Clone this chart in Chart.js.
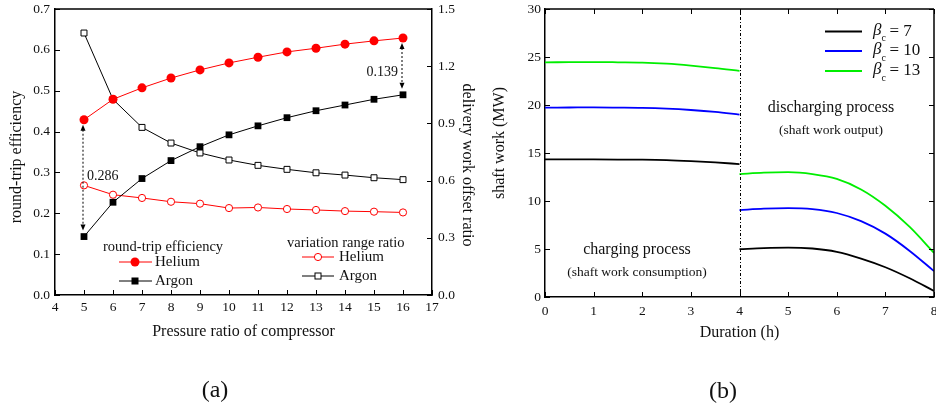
<!DOCTYPE html>
<html><head><meta charset="utf-8">
<script src="https://cdn.jsdelivr.net/npm/chart.js@4/dist/chart.umd.min.js"></script>
<style>
html,body{margin:0;padding:0;background:#fff;}
#wrap{position:relative;width:936px;height:408px;overflow:hidden;background:#fff;}
#ca{position:absolute;left:0;top:0;width:480px;height:408px;}
#cb{position:absolute;left:480px;top:0;width:456px;height:408px;}
</style></head><body>
<div id="wrap"><canvas id="ca" width="480" height="408"></canvas><canvas id="cb" width="456" height="408"></canvas></div>
<script>
// ---------- Panel (a) data ----------
const pressureRatios = [5,6,7,8,9,10,11,12,13,14,15,16];
const rteHelium = [0.429,0.479,0.507,0.531,0.551,0.568,0.582,0.595,0.604,0.614,0.622,0.629];
const rteArgon  = [0.143,0.227,0.285,0.329,0.363,0.392,0.414,0.434,0.451,0.465,0.479,0.490];
const vrrHelium = [0.575,0.526,0.509,0.489,0.479,0.456,0.459,0.451,0.446,0.440,0.437,0.433];
const vrrArgon  = [1.374,1.026,0.879,0.797,0.745,0.708,0.680,0.659,0.641,0.629,0.615,0.605];

// ---------- Panel (b) data ----------
const chargeHours    = [0,0.5,1,1.5,2,2.5,3,3.5,4];
const dischargeHours = [4,4.5,5,5.5,6,6.5,7,7.5,8];
const chargeBeta7     = [14.33,14.33,14.33,14.32,14.30,14.25,14.15,14.02,13.85];
const chargeBeta10    = [19.73,19.74,19.75,19.73,19.70,19.62,19.48,19.28,19.00];
const chargeBeta13    = [24.45,24.46,24.47,24.45,24.42,24.30,24.10,23.85,23.55];
const dischargeBeta7  = [4.98,5.10,5.15,5.05,4.70,4.00,3.10,1.95,0.63];
const dischargeBeta10 = [9.05,9.20,9.25,9.15,8.75,7.90,6.60,4.80,2.70];
const dischargeBeta13 = [12.80,12.95,13.00,12.80,12.30,11.20,9.50,7.30,4.60];
const betaValues = [7,10,13];
const betaColors = ['#000000','#0000ff','#00ee00'];

const FONT = '"Liberation Serif","Times New Roman",serif';
Chart.defaults.font.family = FONT;
Chart.defaults.color = '#111';

function seg(ctx,x0,y0,x1,y1){ctx.beginPath();ctx.moveTo(x0,y0);ctx.lineTo(x1,y1);ctx.stroke();}
function txt(ctx,s,x,y,size,align,opt){ctx.font=(opt&&opt.italic?'italic ':'')+size+'px '+FONT;ctx.textAlign=align||'center';ctx.textBaseline='middle';ctx.fillStyle='#111';ctx.fillText(s,x,y);}
function vtxt(ctx,s,x,y,size,rot){ctx.save();ctx.translate(x,y);ctx.rotate(rot);txt(ctx,s,0,0,size,'center');ctx.restore();}
function pin(w,h){return function(s){ if(w!==undefined) s.width=w; if(h!==undefined) s.height=h; s.paddingLeft=0; s.paddingRight=0; s.paddingTop=0; s.paddingBottom=0;};}

function dArrow(ctx,x,yt,yb){
  ctx.save();ctx.strokeStyle='#000';ctx.fillStyle='#000';ctx.lineWidth=1;
  ctx.setLineDash([2,2]);seg(ctx,x,yt+5,x,yb-5);ctx.setLineDash([]);
  ctx.beginPath();ctx.moveTo(x,yt);ctx.lineTo(x-2.5,yt+6);ctx.lineTo(x+2.5,yt+6);ctx.closePath();ctx.fill();
  ctx.beginPath();ctx.moveTo(x,yb);ctx.lineTo(x-2.5,yb-6);ctx.lineTo(x+2.5,yb-6);ctx.closePath();ctx.fill();
  ctx.restore();
}

const decorA = {
  id:'decorA',
  afterDraw(chart){
    const {ctx, chartArea:ca, scales} = chart;
    const x=scales.x, y=scales.y, y1=scales.y1;
    ctx.save();
    ctx.strokeStyle='#000';ctx.lineWidth=1;
    x.ticks.forEach(t=>{const p=Math.round(x.getPixelForValue(t.value))+0.5;seg(ctx,p,ca.bottom,p,ca.bottom-5);});
    y.ticks.forEach(t=>{const p=Math.round(y.getPixelForValue(t.value))+0.5;seg(ctx,ca.left,p,ca.left+5,p);});
    y1.ticks.forEach(t=>{const p=Math.round(y1.getPixelForValue(t.value))+0.5;seg(ctx,ca.right-5,p,ca.right,p);});
    ctx.lineWidth=1.5;seg(ctx,ca.left,ca.top,ca.right,ca.top);
    // difference arrows
    const i0=0, i1=pressureRatios.length-1;
    const xa=x.getPixelForValue(pressureRatios[i0]);
    const ya1=y.getPixelForValue(rteHelium[i0]), ya2=y.getPixelForValue(rteArgon[i0]);
    dArrow(ctx,xa-1,ya1+5,ya2-6);
    txt(ctx,(rteHelium[i0]-rteArgon[i0]).toFixed(3),xa+3,(ya1+ya2)/2-2,14,'left');
    const xb=x.getPixelForValue(pressureRatios[i1]);
    const yb1=y.getPixelForValue(rteHelium[i1]), yb2=y.getPixelForValue(rteArgon[i1]);
    dArrow(ctx,xb-1,yb1+5,yb2-6);
    txt(ctx,(rteHelium[i1]-rteArgon[i1]).toFixed(3),xb-5,(yb1+yb2)/2+6,14,'right');
    // legends
    txt(ctx,'round-trip efficiency',103,247,14.5,'left');
    ctx.lineWidth=1;
    ctx.strokeStyle='#ff0000';seg(ctx,119,262,152,262);
    ctx.fillStyle='#ff0000';ctx.beginPath();ctx.arc(135,262,4.5,0,Math.PI*2);ctx.fill();
    txt(ctx,'Helium',155,262,15,'left');
    ctx.strokeStyle='#000';seg(ctx,119,281,152,281);
    ctx.fillStyle='#000';ctx.fillRect(131.5,277.5,7,7);
    txt(ctx,'Argon',155,281,15,'left');
    txt(ctx,'variation range ratio',287,243,14.5,'left');
    ctx.strokeStyle='#ff0000';seg(ctx,302,257,334,257);
    ctx.fillStyle='#fff';ctx.beginPath();ctx.arc(318,257,3.6,0,Math.PI*2);ctx.fill();ctx.stroke();
    txt(ctx,'Helium',339,257,15,'left');
    ctx.strokeStyle='#000';seg(ctx,302,276,334,276);
    ctx.fillStyle='#fff';ctx.fillRect(315,273,6,6);ctx.strokeRect(315,273,6,6);
    txt(ctx,'Argon',339,276,15,'left');
    // axis titles
    vtxt(ctx,'round-trip efficiency',17,157,16,-Math.PI/2);
    vtxt(ctx,'delivery work offset ratio',467,165,16,Math.PI/2);
    txt(ctx,'Pressure ratio of compressor',(ca.left+ca.right)/2,332,16,'center');
    txt(ctx,'(a)',215,391,24,'center');
    ctx.restore();
  }
};

new Chart(document.getElementById('ca'),{
  type:'line',
  data:{
    labels:pressureRatios,
    datasets:[
      {label:'RTE Helium',data:pressureRatios.map((p,i)=>({x:p,y:rteHelium[i]})),yAxisID:'y',borderColor:'#ff0000',backgroundColor:'#ff0000',borderWidth:1,pointStyle:'circle',pointRadius:4.5,pointBorderWidth:0},
      {label:'RTE Argon',data:pressureRatios.map((p,i)=>({x:p,y:rteArgon[i]})),yAxisID:'y',borderColor:'#000',backgroundColor:'#000',borderWidth:1,pointStyle:'rect',pointRadius:4.8,pointBorderWidth:0},
      {label:'VRR Helium',data:pressureRatios.map((p,i)=>({x:p,y:vrrHelium[i]})),yAxisID:'y1',borderColor:'#ff0000',backgroundColor:'#fff',pointBorderColor:'#ff0000',pointBackgroundColor:'#fff',borderWidth:1,pointStyle:'circle',pointRadius:3.6,pointBorderWidth:1},
      {label:'VRR Argon',data:pressureRatios.map((p,i)=>({x:p,y:vrrArgon[i]})),yAxisID:'y1',borderColor:'#000',backgroundColor:'#fff',pointBorderColor:'#000',pointBackgroundColor:'#fff',borderWidth:1,pointStyle:'rect',pointRadius:4.2,pointBorderWidth:1}
    ]
  },
  options:{
    responsive:false,animation:false,
    layout:{padding:{top:9,left:0,right:0,bottom:0}},
    plugins:{legend:{display:false},tooltip:{enabled:false}},
    elements:{line:{tension:0}},
    scales:{
      x:{type:'linear',min:4,max:17,ticks:{stepSize:1,padding:4,font:{size:13.5},color:'#111'},grid:{display:false,drawTicks:false},border:{display:true,color:'#000',width:1.5},afterFit:pin(undefined,113)},
      y:{position:'left',min:0,max:0.7,ticks:{stepSize:0.1,padding:5,font:{size:13.5},color:'#111',callback:v=>v.toFixed(1)},grid:{display:false,drawTicks:false},border:{display:true,color:'#000',width:1.5},afterFit:pin(55)},
      y1:{position:'right',min:0,max:1.5,ticks:{stepSize:0.3,padding:6,font:{size:13.5},color:'#111',callback:v=>v.toFixed(1)},grid:{display:false,drawTicks:false},border:{display:true,color:'#000',width:1.5},afterFit:pin(48)}
    }
  },
  plugins:[decorA]
});

// ---------- Panel (b) ----------
const decorB = {
  id:'decorB',
  afterDraw(chart){
    const {ctx, chartArea:ca, scales} = chart;
    const x=scales.x, y=scales.y;
    ctx.save();
    ctx.strokeStyle='#000';ctx.lineWidth=1;
    x.ticks.forEach(t=>{const p=Math.round(x.getPixelForValue(t.value))+0.5;seg(ctx,p,ca.bottom,p,ca.bottom-5);seg(ctx,p,ca.top,p,ca.top+5);});
    y.ticks.forEach(t=>{const p=Math.round(y.getPixelForValue(t.value))+0.5;seg(ctx,ca.left,p,ca.left+5,p);seg(ctx,ca.right-5,p,ca.right,p);});
    ctx.lineWidth=1.5;seg(ctx,ca.left,ca.top,ca.right,ca.top);seg(ctx,ca.right,ca.top,ca.right,ca.bottom);
    // dash-dot separator at end of charging
    const xs=Math.round(x.getPixelForValue(chargeHours[chargeHours.length-1]))+0.5;
    ctx.lineWidth=1;ctx.setLineDash([3,2,1,2]);seg(ctx,xs,ca.top,xs,ca.bottom);ctx.setLineDash([]);
    // legend
    const rows=[31.5,51,71];
    betaValues.forEach((b,i)=>{
      ctx.strokeStyle=betaColors[i];ctx.lineWidth=2;seg(ctx,825-480,rows[i],862-480,rows[i]);
      ctx.font='italic 17px '+FONT;const bw=ctx.measureText('\u03b2').width;
      txt(ctx,'\u03b2',873-480,rows[i]-1,17,'left',{italic:true});
      txt(ctx,'c',873-480+bw,rows[i]+7,10,'left');
      txt(ctx,'= '+b,873-480+bw+8,rows[i],17,'left');
    });
    txt(ctx,'discharging process',831-480,108,16,'center');
    txt(ctx,'(shaft work output)',831-480,130,13.5,'center');
    txt(ctx,'charging process',637-480,250,16,'center');
    txt(ctx,'(shaft work consumption)',637-480,272,13.5,'center');
    vtxt(ctx,'shaft work (MW)',20,143,16,-Math.PI/2);
    txt(ctx,'Duration (h)',(ca.left+ca.right)/2,333,16,'center');
    txt(ctx,'(b)',243,392,24,'center');
    ctx.restore();
  }
};

function series(hours,vals){return hours.map((h,i)=>({x:h,y:vals[i]}));}
const bDatasets=[
  [chargeBeta7,dischargeBeta7],[chargeBeta10,dischargeBeta10],[chargeBeta13,dischargeBeta13]
].flatMap((pair,i)=>[
  {label:'\u03b2c = '+betaValues[i]+' charging',data:series(chargeHours,pair[0]),borderColor:betaColors[i],borderWidth:1.8,pointRadius:0,cubicInterpolationMode:'monotone',fill:false},
  {label:'\u03b2c = '+betaValues[i]+' discharging',data:series(dischargeHours,pair[1]),borderColor:betaColors[i],borderWidth:1.8,pointRadius:0,cubicInterpolationMode:'monotone',fill:false}
]);

new Chart(document.getElementById('cb'),{
  type:'line',
  data:{datasets:bDatasets},
  options:{
    responsive:false,animation:false,
    layout:{padding:{top:9,left:0,right:2,bottom:0}},
    plugins:{legend:{display:false},tooltip:{enabled:false}},
    scales:{
      x:{type:'linear',min:0,max:8,ticks:{stepSize:1,padding:6,font:{size:13.5},color:'#111'},grid:{display:false,drawTicks:false},border:{display:true,color:'#000',width:1.5},afterFit:pin(undefined,111)},
      y:{position:'left',min:0,max:30,ticks:{stepSize:5,padding:4,font:{size:13.5},color:'#111'},grid:{display:false,drawTicks:false},border:{display:true,color:'#000',width:1.5},afterFit:pin(65)}
    }
  },
  plugins:[decorB]
});
</script>
</body></html>
